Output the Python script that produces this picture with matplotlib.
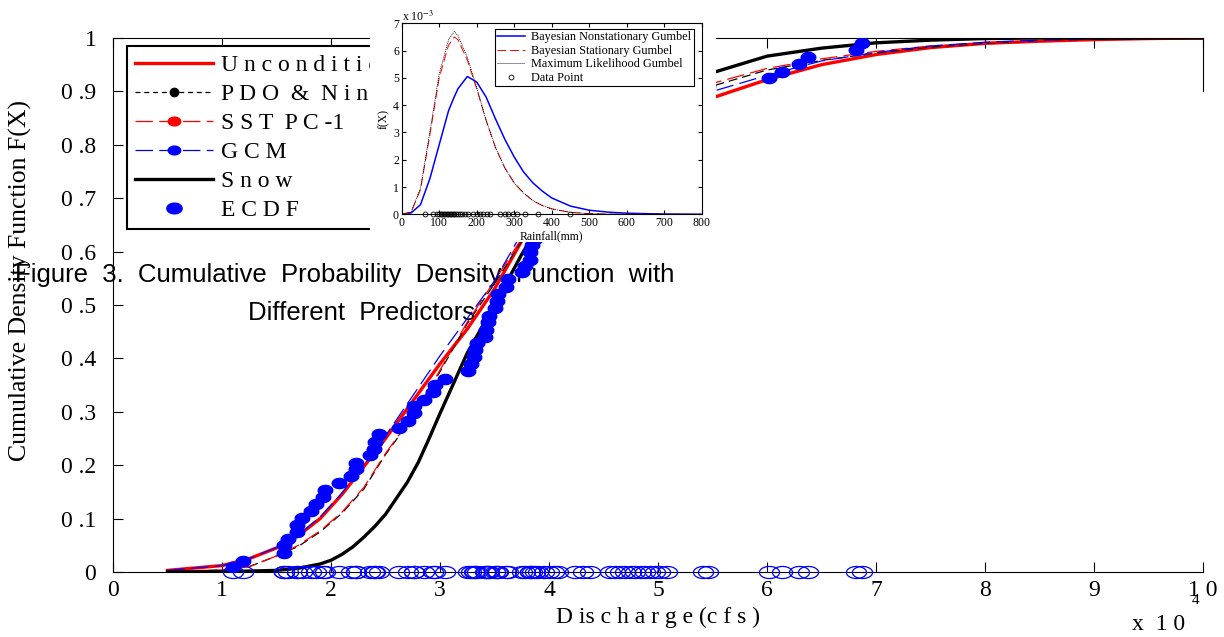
import numpy as np
import matplotlib
matplotlib.use("Agg")
import matplotlib.pyplot as plt
from matplotlib.lines import Line2D
from matplotlib.patches import Rectangle

plt.rcParams['font.family'] = ['Liberation Serif', 'DejaVu Serif']
plt.rcParams['mathtext.fontset'] = 'stix'

# discharge (x 10^4 cfs) for the fitted CDFs
q = [0.5, 1.0, 1.25, 1.5, 1.7, 1.9, 2.1, 2.3, 2.5, 2.75, 3.0, 3.25, 3.5, 3.75,
     4.0, 4.5, 5.0, 5.5, 6.0, 6.5, 7.0, 7.5, 8.0, 8.5, 9.0, 9.5, 10.0]
cdf_uncond = [0.003, 0.012, 0.025, 0.045, 0.068, 0.10, 0.145, 0.197, 0.25, 0.32, 0.39,
              0.455, 0.53, 0.62, 0.68, 0.77, 0.84, 0.888, 0.922, 0.95, 0.969, 0.982,
              0.99, 0.994, 0.997, 0.999, 1.0]
cdf_pdo = [0.001, 0.004, 0.01, 0.03, 0.048, 0.075, 0.11, 0.155, 0.22, 0.29, 0.375,
           0.465, 0.54, 0.62, 0.69, 0.79, 0.865, 0.91, 0.94, 0.958, 0.972, 0.983,
           0.99, 0.995, 0.998, 0.999, 1.0]
cdf_sst = [0.001, 0.004, 0.01, 0.03, 0.05, 0.077, 0.112, 0.158, 0.222, 0.292, 0.378,
           0.468, 0.545, 0.625, 0.695, 0.795, 0.87, 0.915, 0.943, 0.961, 0.975, 0.985,
           0.991, 0.995, 0.998, 0.999, 1.0]
cdf_gcm = [0.003, 0.012, 0.025, 0.046, 0.07, 0.103, 0.148, 0.20, 0.255, 0.33, 0.405,
           0.475, 0.545, 0.635, 0.695, 0.79, 0.86, 0.90, 0.93, 0.957, 0.973, 0.985,
           0.992, 0.996, 0.998, 0.999, 1.0]
snow_q = [0.5, 1.0, 1.5, 1.7, 1.9, 2.0, 2.1, 2.2, 2.3, 2.4, 2.5, 2.6, 2.7, 2.8, 2.9,
          3.0, 3.25, 3.5, 3.75, 4.0, 4.5, 5.0, 5.5, 6.0, 6.5, 7.0, 7.5, 8.0, 8.5, 9.0, 10.0]
cdf_snow = [0.0, 0.0005, 0.003, 0.007, 0.015, 0.022, 0.033, 0.047, 0.065, 0.085, 0.108,
            0.138, 0.168, 0.205, 0.25, 0.297, 0.41, 0.50, 0.595, 0.68, 0.80, 0.88, 0.935,
            0.966, 0.981, 0.991, 0.996, 0.999, 1.0, 1.0, 1.0]

# observed peaks (x 10^4 cfs) and their empirical CDF
ecdf_x = [1.10, 1.19, 1.57, 1.57, 1.61, 1.685, 1.685, 1.73, 1.82, 1.86,
          1.93, 1.945, 2.07, 2.18, 2.23, 2.23, 2.36, 2.39, 2.40, 2.44,
          2.62, 2.71, 2.76, 2.76, 2.85, 2.94, 2.95, 3.05, 3.26, 3.28,
          3.31, 3.32, 3.34, 3.41, 3.42, 3.44, 3.45, 3.50, 3.52, 3.53,
          3.61, 3.62, 3.75, 3.78, 3.83, 3.83, 3.84,
          3.87, 3.90, 3.95, 4.00, 4.05, 4.08, 4.24, 4.31, 4.38, 4.56,
          4.61, 4.65, 4.70, 4.75, 4.79, 4.84, 4.88, 4.93, 4.97, 5.02,
          5.08, 5.41, 5.46,
          6.02, 6.14, 6.29, 6.38, 6.82, 6.87]
ecdf_y = [0.010, 0.021, 0.035, 0.050, 0.062, 0.074, 0.088, 0.102, 0.114, 0.127,
          0.140, 0.154, 0.167, 0.180, 0.192, 0.205, 0.219, 0.230, 0.244, 0.259,
          0.270, 0.283, 0.298, 0.311, 0.323, 0.337, 0.350, 0.362, 0.376, 0.390,
          0.402, 0.416, 0.428, 0.441, 0.454, 0.469, 0.479, 0.494, 0.507, 0.521,
          0.533, 0.548, 0.562, 0.573, 0.584, 0.600, 0.612,
          0.624, 0.637, 0.650, 0.663, 0.676, 0.689, 0.702, 0.715, 0.728, 0.741,
          0.754, 0.767, 0.780, 0.793, 0.806, 0.819, 0.832, 0.845, 0.858, 0.871,
          0.884, 0.897, 0.910,
          0.926, 0.937, 0.951, 0.965, 0.978, 0.990]

# inset: rainfall pdfs (x 10^-3)
rain = [0, 25, 50, 75, 100, 125, 140, 150, 175, 200, 225, 250, 275, 300, 325, 350,
        375, 400, 450, 500, 550, 600, 700, 800]
pdf_nonstat = [0, 0.05, 0.35, 1.3, 2.55, 3.8, 4.3, 4.6, 5.05, 4.85, 4.3, 3.5, 2.75, 2.1,
               1.55, 1.15, 0.85, 0.6, 0.3, 0.15, 0.08, 0.04, 0.01, 0.0]
pdf_stat = [0, 0.08, 0.9, 2.9, 5.0, 6.2, 6.5, 6.4, 5.65, 4.6, 3.45, 2.45, 1.7, 1.15,
            0.78, 0.5, 0.32, 0.2, 0.07, 0.025, 0.008, 0.002, 0.0, 0.0]
pdf_ml = [0, 0.08, 0.95, 3.0, 5.15, 6.4, 6.7, 6.55, 5.75, 4.65, 3.45, 2.45, 1.7, 1.15,
          0.78, 0.5, 0.32, 0.2, 0.07, 0.025, 0.008, 0.002, 0.0, 0.0]
rain_obs = [62, 84, 95, 100, 104, 108, 112, 116, 120, 124, 128, 132, 136, 140, 145,
            150, 155, 160, 169, 178, 191, 200, 209, 218, 227, 236, 262, 276, 284, 298,
            307, 329, 364, 449]

xtick_labels = ['0', '1', '2', '3', '4', '5', '6', '7', '8', '9', '1 0']
ytick_labels = ['0', '0 .1', '0 .2', '0 .3', '0 .4', '0 .5', '0 .6', '0 .7', '0 .8', '0 .9', '1']

t = np.linspace(0, 2 * np.pi, 40)
ell_fill = np.column_stack([np.cos(t), 0.7 * np.sin(t)])
ell_open = np.column_stack([np.cos(t), 0.6 * np.sin(t)])

fig = plt.figure(figsize=(12.24, 6.37), dpi=100)
ax = fig.add_axes([113 / 1224, 1 - 572 / 637, 1090 / 1224, 534 / 637])

ax.plot(q, cdf_uncond, color='red', lw=2.4, zorder=3)
ax.plot(q, cdf_pdo, color='black', lw=0.9, dashes=(7, 4), zorder=3)
ax.plot(q, cdf_sst, color='red', lw=0.9, dashes=(14, 5), zorder=3)
ax.plot(q, cdf_gcm, color='blue', lw=0.9, dashes=(14, 5), zorder=3)
ax.plot(snow_q, cdf_snow, color='black', lw=2.4, zorder=3)
ax.plot(ecdf_x, ecdf_y, ls='none', marker=ell_fill, ms=10.5, color='blue', zorder=4)
ax.plot(ecdf_x, np.zeros(len(ecdf_x)), ls='none', marker=ell_open, ms=14.5,
        mfc='none', mec='blue', mew=0.9, clip_on=False, zorder=5)

ax.set_xlim(0, 10)
ax.set_ylim(0, 1)
ax.set_xticks(range(11))
ax.set_xticklabels(xtick_labels)
ax.set_yticks(np.arange(11) / 10)
ax.set_yticklabels(ytick_labels)
ax.tick_params(direction='in', length=7, labelsize=17, top=True, right=False)
ax.tick_params(axis='y', pad=12)
ax.tick_params(axis='x', pad=6)
ax.spines['right'].set_bounds(0.9, 1.0)
ax.set_xlabel('D is c h a r g e (c f s )', fontsize=17, labelpad=4)
ax.set_ylabel('Cumulative Density Function F(X)', fontsize=18.5)
ax.yaxis.set_label_coords(-0.074, 0.545)
fig.text(1132 / 1224, 1 - 630 / 637, 'x  1 0', fontsize=17)
fig.text(1192 / 1224, 1 - 604 / 637, '4', fontsize=11)

handles = [
    Line2D([], [], color='red', lw=2.4),
    Line2D([], [], color='black', lw=0.9, dashes=(4, 3), marker='o', ms=6, mfc='black'),
    Line2D([], [], color='red', lw=0.9, dashes=(14, 5), marker=ell_fill, ms=9),
    Line2D([], [], color='blue', lw=0.9, dashes=(14, 5), marker=ell_fill, ms=9),
    Line2D([], [], color='black', lw=2.4),
    Line2D([], [], ls='none', color='blue', marker=ell_fill, ms=11),
]
labels = ['U n c o n d i t i o n a l', 'P D O  &  N i n o 3 . 4', 'S S T  P C -1',
          'G C M', 'S n o w', 'E C D F']
leg = ax.legend(handles, labels, loc='upper left', bbox_to_anchor=(0.0128, 0.985),
                borderaxespad=0, fontsize=17, handlelength=3.3, handletextpad=0.35,
                labelspacing=0.32, borderpad=0.35, fancybox=False, framealpha=1,
                edgecolor='black')
leg.get_frame().set_linewidth(1.5)

cap_font = dict(family='Liberation Sans', fontsize=18.5, zorder=1, clip_on=False,
                transform=fig.transFigure)
ax.text(15 / 1224, 1 - 275 / 637, 'Figure  3.  Cumulative  Probability  Density  Function  with',
        va='center', ha='left', **cap_font)
ax.text(248 / 1224, 1 - 313 / 637, 'Different  Predictors', va='center', ha='left', **cap_font)

# white patch of the pasted inset figure
fig.add_artist(Rectangle((370 / 1224, 1 - 242 / 637), 346 / 1224, 242 / 637,
                         transform=fig.transFigure, facecolor='white',
                         edgecolor='none', zorder=1))

axi = fig.add_axes([401.7 / 1224, 1 - 214.3 / 637, 300 / 1224, 191 / 637])
axi.set_zorder(2)
axi.plot(rain, pdf_nonstat, color='blue', lw=1.1, label='Bayesian Nonstationary Gumbel')
axi.plot(rain, pdf_stat, color='red', lw=0.7, dashes=(9, 4), label='Bayesian Stationary Gumbel')
axi.plot(rain, pdf_ml, color='black', lw=0.6, ls=(0, (1.2, 1.2)), label='Maximum Likelihood Gumbel')
axi.plot(rain_obs, np.zeros(len(rain_obs)), ls='none', marker='o', ms=3.5, mfc='none',
         mec='black', mew=0.6, clip_on=False, label='Data Point')
axi.set_xlim(0, 800)
axi.set_ylim(0, 7)
axi.set_xticks(range(0, 801, 100))
axi.set_yticks(range(8))
axi.tick_params(direction='in', length=3, labelsize=8.5, top=True, right=True, pad=2)
axi.set_xlabel('Rainfall(mm)', fontsize=8.5, labelpad=1)
axi.set_ylabel('f(X)', fontsize=8.5, labelpad=2)
axi.text(0, 0.995, r'x 10$^{-3}$', transform=axi.transAxes, fontsize=8.5, ha='left', va='bottom')
ileg = axi.legend(loc='upper right', bbox_to_anchor=(0.974, 0.97), borderaxespad=0,
                  fontsize=8.8, handlelength=2.3, handletextpad=0.5, labelspacing=0.12,
                  borderpad=0.2, fancybox=False, framealpha=1, edgecolor='black')
ileg.get_frame().set_linewidth(0.8)

fig.savefig('out.png', dpi=100)
